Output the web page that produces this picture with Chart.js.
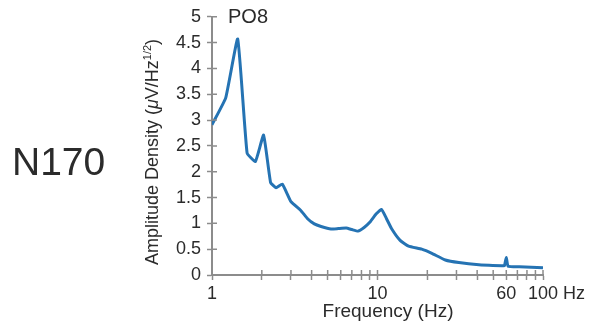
<!DOCTYPE html>
<html lang="en">
<head>
    <meta charset="UTF-8">
    <title>N170 PO8 amplitude spectrum</title>
    <style>
        body {
            margin: 0;
            padding: 0;
            background-color: #fff;
        }
        .wrap {
            position: relative;
            width: 597px;
            height: 325px;
        }
    </style>
</head>
<body>
    <div class="wrap">
        <canvas id="spectrum" width="597" height="325"></canvas>
    </div>

    <script src="https://cdn.jsdelivr.net/npm/chart.js"></script>
    <script>
        // values
        const freqHz = [1.0, 1.21, 1.43, 1.63, 1.83, 2.05, 2.26, 2.44, 2.66, 3.0, 3.44, 3.78, 4.15, 4.56, 5.24, 5.8, 6.47, 7.0, 7.62, 8.3, 8.98, 9.8, 10.57, 11.3, 12.2, 13.7, 15.4, 18.5, 21.3, 25.7, 31, 41, 57, 58.5, 60, 61.5, 72, 100];
        const amplitude = [2.91, 3.43, 4.57, 2.36, 2.20, 2.71, 1.79, 1.69, 1.76, 1.42, 1.25, 1.09, 0.99, 0.94, 0.89, 0.90, 0.91, 0.88, 0.85, 0.92, 1.02, 1.18, 1.27, 1.10, 0.89, 0.67, 0.56, 0.50, 0.42, 0.29, 0.24, 0.20, 0.18, 0.18, 0.34, 0.17, 0.16, 0.14];
        const xTickValues = [1, 2, 3, 4, 5, 6, 7, 8, 9, 10, 20, 30, 40, 50, 60, 70, 80, 90, 100];
        const xLabelled = [1, 10, 60, 100];

        const axisGray = '#8c8c8c';
        const textColor = '#2b2b2b';
        const fontFamily = '"Liberation Sans", Arial, Helvetica, sans-serif';

        const points = freqHz.map((f, i) => ({ x: f, y: amplitude[i] }));

        // extra bits: tick stubs inside the axes, "Hz" unit, y title with superscript, labels
        const decorations = {
            id: 'decorations',
            afterDraw(chart) {
                const ctx = chart.ctx;
                const xs = chart.scales.x;
                const ys = chart.scales.y;
                const area = chart.chartArea;
                ctx.save();

                // inner halves of the tick marks
                ctx.strokeStyle = axisGray;
                ctx.lineWidth = 1.5;
                ctx.beginPath();
                ys.ticks.forEach(t => {
                    const py = ys.getPixelForValue(t.value);
                    ctx.moveTo(area.left, py);
                    ctx.lineTo(area.left + 5, py);
                });
                xs.ticks.forEach(t => {
                    const px = xs.getPixelForValue(t.value);
                    ctx.moveTo(px, area.bottom);
                    ctx.lineTo(px, area.bottom - 5);
                });
                ctx.stroke();

                ctx.fillStyle = textColor;
                ctx.textBaseline = 'alphabetic';

                // "Hz" after the 100 label
                ctx.font = '18px ' + fontFamily;
                const w100 = ctx.measureText('100').width;
                ctx.textAlign = 'left';
                ctx.fillText('Hz', xs.getPixelForValue(100) + w100 / 2 + 5, 299);

                // x axis title
                ctx.font = '19px ' + fontFamily;
                ctx.textAlign = 'center';
                ctx.fillText('Frequency (Hz)', 388, 317);
                ctx.textAlign = 'left';

                // channel name
                ctx.font = '20px ' + fontFamily;
                ctx.fillText('PO8', 228, 23);

                // condition label
                ctx.font = '39px ' + fontFamily;
                ctx.fillText('N170', 12, 175);

                // y axis title, rotated, with italic mu and superscript 1/2
                const parts = [
                    { t: 'Amplitude Density (', f: '18px ' + fontFamily, dy: 0 },
                    { t: 'μ', f: 'italic 18px ' + fontFamily, dy: 0 },
                    { t: 'V/Hz', f: '18px ' + fontFamily, dy: 0 },
                    { t: '1/2', f: '11px ' + fontFamily, dy: -7 },
                    { t: ')', f: '18px ' + fontFamily, dy: 0 }
                ];
                let total = 0;
                parts.forEach(p => { ctx.font = p.f; p.w = ctx.measureText(p.t).width; total += p.w; });
                ctx.translate(158, 152);
                ctx.rotate(-Math.PI / 2);
                let cx = -total / 2;
                parts.forEach(p => {
                    ctx.font = p.f;
                    ctx.fillText(p.t, cx, p.dy);
                    cx += p.w;
                });
                ctx.restore();
            }
        };

        new Chart(document.getElementById('spectrum'), {
            type: 'line',
            data: {
                datasets: [{
                    label: 'PO8',
                    data: points,
                    borderColor: '#2573b3',
                    borderWidth: 3,
                    pointRadius: 0,
                    tension: 0.12,
                    fill: false
                }]
            },
            options: {
                responsive: false,
                animation: false,
                layout: {
                    padding: { left: 0, top: 14, right: 54, bottom: 0 }
                },
                plugins: {
                    legend: { display: false },
                    tooltip: { enabled: false }
                },
                scales: {
                    x: {
                        type: 'logarithmic',
                        min: 1,
                        max: 100,
                        afterFit(scale) { scale.height = 50; },
                        afterBuildTicks(scale) {
                            scale.ticks = xTickValues.map(v => ({ value: v }));
                        },
                        grid: {
                            drawOnChartArea: false,
                            drawTicks: true,
                            tickLength: 5,
                            tickWidth: 1.5,
                            color: axisGray
                        },
                        border: { color: axisGray, width: 2 },
                        ticks: {
                            autoSkip: false,
                            maxRotation: 0,
                            padding: 3,
                            color: textColor,
                            font: { family: fontFamily, size: 18 },
                            callback: (v) => xLabelled.includes(v) ? String(v) : ''
                        }
                    },
                    y: {
                        min: 0,
                        max: 5,
                        afterFit(scale) { scale.width = 212; },
                        grid: {
                            drawOnChartArea: false,
                            drawTicks: true,
                            tickLength: 5,
                            tickWidth: 1.5,
                            color: axisGray
                        },
                        border: { color: axisGray, width: 2 },
                        ticks: {
                            stepSize: 0.5,
                            padding: 6,
                            color: textColor,
                            font: { family: fontFamily, size: 18 },
                            callback: (v) => String(Math.round(v * 10) / 10)
                        }
                    }
                }
            },
            plugins: [decorations]
        });
    </script>
</body>
</html>
